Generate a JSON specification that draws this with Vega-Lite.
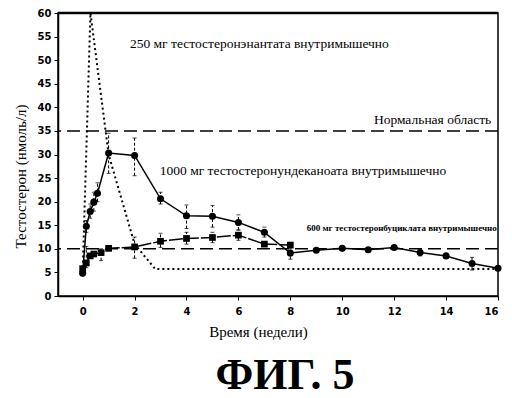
{
  "$schema": "https://vega.github.io/schema/vega-lite/v6.json",
  "width": 440,
  "height": 283,
  "autosize": {"type": "none"},
  "padding": {"left": 58, "top": 13, "right": 14, "bottom": 102},
  "background": "white",
  "config": {
    "view": {"stroke": "black", "strokeWidth": 1.5},
    "axis": {
      "grid": false, "domainColor": "black", "tickColor": "black", "labelColor": "black", "titleColor": "black",
      "titleFont": "Liberation Serif", "titleFontSize": 15, "titleFontWeight": "normal",
      "labelFont": "DejaVu Sans", "labelFontSize": 10, "labelFontWeight": "bold",
      "tickSize": 4, "domainWidth": 1.5
    },
    "axisX": {"titleX": 200, "titleY": 28, "titleBaseline": "top", "labelPadding": 6},
    "axisY": {"titleX": -38, "titleY": 163, "titleAngle": -90, "titleBaseline": "middle", "titleAlign": "center", "labelPadding": 3}
  },
  "title": {
    "text": "ФИГ. 5",
    "orient": "bottom",
    "anchor": "middle",
    "font": "Liberation Serif",
    "fontSize": 44,
    "fontWeight": "bold",
    "color": "black",
    "baseline": "alphabetic",
    "offset": 50,
    "dx": 7
  },
  "datasets": {
    "und": [
      {"t": 0, "v": 4.8},
      {"t": 0.14, "v": 14.8, "lo": 13.5, "hi": 16},
      {"t": 0.29, "v": 17.9, "lo": 16.5, "hi": 19.5},
      {"t": 0.43, "v": 19.9, "lo": 18, "hi": 22},
      {"t": 0.57, "v": 21.8, "lo": 20, "hi": 24},
      {"t": 1, "v": 30.3, "lo": 26, "hi": 34.5},
      {"t": 2, "v": 29.8, "lo": 25.5, "hi": 33.5},
      {"t": 3, "v": 20.6, "lo": 19.5, "hi": 22},
      {"t": 4, "v": 17.0, "lo": 14.3, "hi": 19.3},
      {"t": 5, "v": 16.9, "lo": 14.6, "hi": 19.2},
      {"t": 6, "v": 15.6, "lo": 14, "hi": 17.2},
      {"t": 7, "v": 13.5, "lo": 12.5, "hi": 14.6},
      {"t": 8, "v": 9.1, "lo": 7.8, "hi": 10},
      {"t": 9, "v": 9.7},
      {"t": 10, "v": 10.1},
      {"t": 11, "v": 9.8},
      {"t": 12, "v": 10.3},
      {"t": 13, "v": 9.2, "lo": 8.5, "hi": 10},
      {"t": 14, "v": 8.5},
      {"t": 15, "v": 6.9, "lo": 5.5, "hi": 8.2},
      {"t": 16, "v": 5.9}
    ],
    "buc": [
      {"t": 0, "v": 5.8},
      {"t": 0.14, "v": 7.0, "lo": 6, "hi": 10.5},
      {"t": 0.29, "v": 8.5},
      {"t": 0.43, "v": 8.9},
      {"t": 0.71, "v": 9.2, "lo": 7.5, "hi": 10},
      {"t": 1, "v": 10.1},
      {"t": 2, "v": 10.4, "lo": 8, "hi": 12.5},
      {"t": 3, "v": 11.6, "lo": 10.3, "hi": 13.3},
      {"t": 4, "v": 12.2, "lo": 11, "hi": 13.5},
      {"t": 5, "v": 12.4, "lo": 11.3, "hi": 13.5},
      {"t": 6, "v": 12.9, "lo": 11.8, "hi": 14},
      {"t": 7, "v": 11.0},
      {"t": 8, "v": 10.8}
    ],
    "ena": [
      {"t": 0, "v": 5},
      {"t": 0.3, "v": 60},
      {"t": 1, "v": 30},
      {"t": 2, "v": 11},
      {"t": 2.8, "v": 5.7},
      {"t": 16, "v": 5.7}
    ]
  },
  "encoding": {
    "x": {
      "field": "t", "type": "quantitative",
      "scale": {"domain": [-0.95, 16], "nice": false, "zero": false},
      "axis": {"values": [0, 2, 4, 6, 8, 10, 12, 14, 16], "title": "Время (недели)", "titleFont": "Liberation Serif", "titleFontSize": 15, "titleFontWeight": "normal"}
    },
    "y": {
      "field": "v", "type": "quantitative",
      "scale": {"domain": [0, 60], "nice": false},
      "axis": {"values": [0, 5, 10, 15, 20, 25, 30, 35, 40, 45, 50, 55, 60], "title": "Тестостерон (нмоль/л)", "titleFont": "Liberation Serif", "titleFontSize": 15, "titleFontWeight": "normal"}
    }
  },
  "layer": [
    {"data": {"name": "ena"}, "mark": {"type": "line", "color": "black", "strokeWidth": 2, "strokeDash": [2, 3]}},
    {"data": {"values": [{"v": 35}, {"v": 10}]}, "mark": {"type": "rule", "color": "black", "strokeWidth": 1.5, "strokeDash": [13, 6]}, "encoding": {"x": null}},
    {"data": {"values": [{"v": 60}]}, "mark": {"type": "rule", "color": "black", "strokeWidth": 2.5}, "encoding": {"x": null}},
    {"data": {"name": "buc"}, "mark": {"type": "rule", "color": "black", "strokeWidth": 1, "strokeDash": [3, 2]},
     "encoding": {"y": {"field": "lo", "type": "quantitative", "scale": {"domain": [0, 60], "nice": false}, "axis": {"values": [0, 5, 10, 15, 20, 25, 30, 35, 40, 45, 50, 55, 60], "title": "Тестостерон (нмоль/л)", "titleFont": "Liberation Serif", "titleFontSize": 15, "titleFontWeight": "normal"}}, "y2": {"field": "hi"}}},
    {"data": {"name": "und"}, "mark": {"type": "rule", "color": "black", "strokeWidth": 1, "strokeDash": [3, 2]},
     "encoding": {"y": {"field": "lo", "type": "quantitative", "scale": {"domain": [0, 60], "nice": false}, "axis": {"values": [0, 5, 10, 15, 20, 25, 30, 35, 40, 45, 50, 55, 60], "title": "Тестостерон (нмоль/л)", "titleFont": "Liberation Serif", "titleFontSize": 15, "titleFontWeight": "normal"}}, "y2": {"field": "hi"}}},
    {"data": {"name": "und"}, "mark": {"type": "tick", "color": "black", "thickness": 1, "size": 4, "orient": "horizontal"},
     "encoding": {"y": {"field": "hi", "type": "quantitative", "scale": {"domain": [0, 60], "nice": false}, "axis": {"values": [0, 5, 10, 15, 20, 25, 30, 35, 40, 45, 50, 55, 60], "title": "Тестостерон (нмоль/л)", "titleFont": "Liberation Serif", "titleFontSize": 15, "titleFontWeight": "normal"}}}},
    {"data": {"name": "und"}, "mark": {"type": "tick", "color": "black", "thickness": 1, "size": 4, "orient": "horizontal"},
     "encoding": {"y": {"field": "lo", "type": "quantitative", "scale": {"domain": [0, 60], "nice": false}, "axis": {"values": [0, 5, 10, 15, 20, 25, 30, 35, 40, 45, 50, 55, 60], "title": "Тестостерон (нмоль/л)", "titleFont": "Liberation Serif", "titleFontSize": 15, "titleFontWeight": "normal"}}}},
    {"data": {"name": "buc"}, "mark": {"type": "tick", "color": "black", "thickness": 1, "size": 4, "orient": "horizontal"},
     "encoding": {"y": {"field": "hi", "type": "quantitative", "scale": {"domain": [0, 60], "nice": false}, "axis": {"values": [0, 5, 10, 15, 20, 25, 30, 35, 40, 45, 50, 55, 60], "title": "Тестостерон (нмоль/л)", "titleFont": "Liberation Serif", "titleFontSize": 15, "titleFontWeight": "normal"}}}},
    {"data": {"name": "buc"}, "mark": {"type": "tick", "color": "black", "thickness": 1, "size": 4, "orient": "horizontal"},
     "encoding": {"y": {"field": "lo", "type": "quantitative", "scale": {"domain": [0, 60], "nice": false}, "axis": {"values": [0, 5, 10, 15, 20, 25, 30, 35, 40, 45, 50, 55, 60], "title": "Тестостерон (нмоль/л)", "titleFont": "Liberation Serif", "titleFontSize": 15, "titleFontWeight": "normal"}}}},
    {"data": {"name": "buc"}, "mark": {"type": "line", "color": "black", "strokeWidth": 1.5, "strokeDash": [14, 2]}},
    {"data": {"name": "buc"}, "mark": {"type": "square", "color": "black", "filled": true, "opacity": 1, "size": 45}},
    {"data": {"name": "und"}, "mark": {"type": "line", "color": "black", "strokeWidth": 1.5}},
    {"data": {"name": "und"}, "mark": {"type": "circle", "color": "black", "opacity": 1, "size": 50}},
    {"data": {"values": [{"t": 1.82, "v": 53.5, "label": "250 мг тестостеронэнантата внутримышечно"}]}, "mark": {"type": "text", "align": "left", "baseline": "middle", "font": "Liberation Serif", "fontSize": 13.5, "color": "black"}, "encoding": {"text": {"field": "label"}}},
    {"data": {"values": [{"t": 15.74, "v": 37.4, "label": "Нормальная область"}]}, "mark": {"type": "text", "align": "right", "baseline": "middle", "font": "Liberation Serif", "fontSize": 13.5, "color": "black"}, "encoding": {"text": {"field": "label"}}},
    {"data": {"values": [{"t": 2.97, "v": 26.6, "label": "1000 мг тестостеронундеканоата внутримышечно"}]}, "mark": {"type": "text", "align": "left", "baseline": "middle", "font": "Liberation Serif", "fontSize": 13.5, "color": "black"}, "encoding": {"text": {"field": "label"}}},
    {"data": {"values": [{"t": 8.63, "v": 14.5, "label": "600 мг тестостеронбуциклата внутримышечно"}]}, "mark": {"type": "text", "align": "left", "baseline": "middle", "font": "Liberation Serif", "fontSize": 9, "fontWeight": "bold", "color": "black"}, "encoding": {"text": {"field": "label"}}}
  ]
}
